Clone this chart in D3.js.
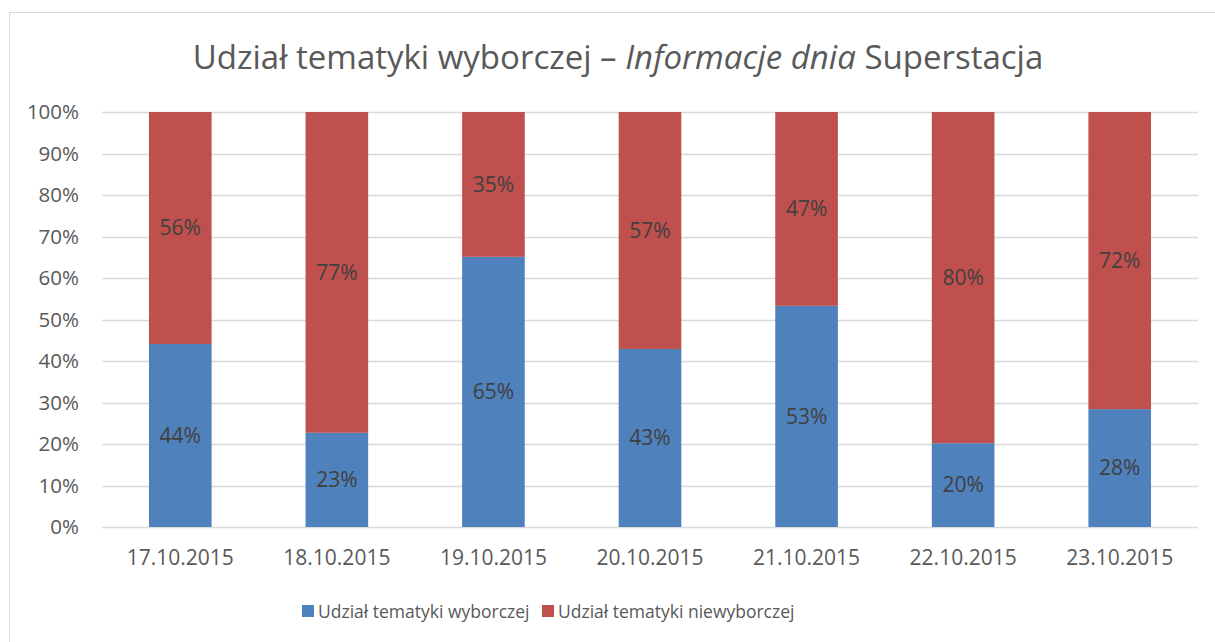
<!DOCTYPE html>
<html>
<head>
<meta charset="utf-8">
<script src="https://cdn.jsdelivr.net/npm/d3@7"></script>
<style>
  body { margin: 0; background: #fff; }
  svg text { font-family: "Open Sans", "Noto Sans", sans-serif; }
</style>
</head>
<body>
<div id="chart"></div>
<script>
// data (percent)
var categories = ["17.10.2015", "18.10.2015", "19.10.2015", "20.10.2015", "21.10.2015", "22.10.2015", "23.10.2015"];
var wyborcze = [44.1, 22.7, 65.1, 42.9, 53.3, 20.2, 28.4];
var niewyborcze = [55.9, 77.3, 34.9, 57.1, 46.7, 79.8, 71.6];
var seriesNames = ["Udział tematyki wyborczej", "Udział tematyki niewyborczej"];
var seriesColors = ["#4F81BD", "#C0504D"];
var yTicks = [0, 10, 20, 30, 40, 50, 60, 70, 80, 90, 100];

var width = 1215, height = 642;
var margin = {left: 102, right: 17, top: 112, bottom: 115};

var svg = d3.select("#chart").append("svg")
    .attr("width", width)
    .attr("height", height);

// chart border
svg.append("rect")
    .attr("x", 9.5).attr("y", 12.5)
    .attr("width", 1210).attr("height", 640)
    .attr("fill", "none").attr("stroke", "#d9d9d9").attr("stroke-width", 1);

// title, middle part is italic
var title = svg.append("text")
    .attr("x", 618).attr("y", 69)
    .attr("text-anchor", "middle")
    .attr("fill", "#595959")
    .style("font-size", "33px");
title.append("tspan").text("Udział tematyki wyborczej – ");
title.append("tspan").style("font-style", "italic").text("Informacje dnia");
title.append("tspan").text(" Superstacja");

var x = d3.scaleBand()
    .domain(categories)
    .range([margin.left, width - margin.right])
    .paddingInner(0.6)
    .paddingOuter(0.3);

var y = d3.scaleLinear()
    .domain([0, 100])
    .range([height - margin.bottom, margin.top]);

// gridlines
svg.append("g").selectAll("line")
    .data(yTicks)
    .join("line")
    .attr("x1", margin.left).attr("x2", width - margin.right)
    .attr("y1", function (d) { return Math.round(y(d)) + 0.5; })
    .attr("y2", function (d) { return Math.round(y(d)) + 0.5; })
    .attr("stroke", "#d9d9d9").attr("stroke-width", 1.3);

// y axis labels
var yAxis = svg.append("g")
    .attr("transform", "translate(" + (margin.left - 23) + ",0)")
    .call(d3.axisLeft(y).tickValues(yTicks).tickSize(0).tickFormat(function (d) { return d + "%"; }));
yAxis.select(".domain").remove();
yAxis.selectAll("text")
    .attr("fill", "#595959")
    .style("font-size", "20.5px")
    .attr("x", 0);

// x axis labels
var xAxis = svg.append("g")
    .attr("transform", "translate(0," + (height - margin.bottom + 20) + ")")
    .call(d3.axisBottom(x).tickSize(0));
xAxis.select(".domain").remove();
xAxis.selectAll("text")
    .attr("fill", "#595959")
    .style("font-size", "21px");

// stack the two series
var rows = categories.map(function (c, i) {
  return {cat: c, a: wyborcze[i], b: niewyborcze[i]};
});
var stack = d3.stack().keys(["a", "b"]);
var stacked = stack(rows);

var layers = svg.append("g").selectAll("g")
    .data(stacked)
    .join("g")
    .attr("fill", function (d, i) { return seriesColors[i]; });

layers.selectAll("rect")
    .data(function (d) { return d; })
    .join("rect")
    .attr("x", function (d) { return x(d.data.cat); })
    .attr("width", x.bandwidth())
    .attr("y", function (d) { return y(d[1]); })
    .attr("height", function (d) { return y(d[0]) - y(d[1]); });

// data labels in the middle of each segment
layers.selectAll("text")
    .data(function (d) { return d; })
    .join("text")
    .attr("x", function (d) { return x(d.data.cat) + x.bandwidth() / 2; })
    .attr("y", function (d) { return (y(d[0]) + y(d[1])) / 2; })
    .attr("dy", "0.35em")
    .attr("text-anchor", "middle")
    .attr("fill", "#404040")
    .style("font-size", "21px")
    .text(function (d) { return Math.round(d[1] - d[0]) + "%"; });

// legend
var legendX = [302, 542];
var legend = svg.append("g").selectAll("g")
    .data(seriesNames)
    .join("g")
    .attr("transform", function (d, i) { return "translate(" + legendX[i] + ",605)"; });
legend.append("rect")
    .attr("width", 12).attr("height", 12)
    .attr("fill", function (d, i) { return seriesColors[i]; });
legend.append("text")
    .attr("x", 16).attr("y", 6.5)
    .attr("dy", "0.35em")
    .attr("fill", "#595959")
    .style("font-size", "17.5px")
    .text(function (d) { return d; });
</script>
</body>
</html>
